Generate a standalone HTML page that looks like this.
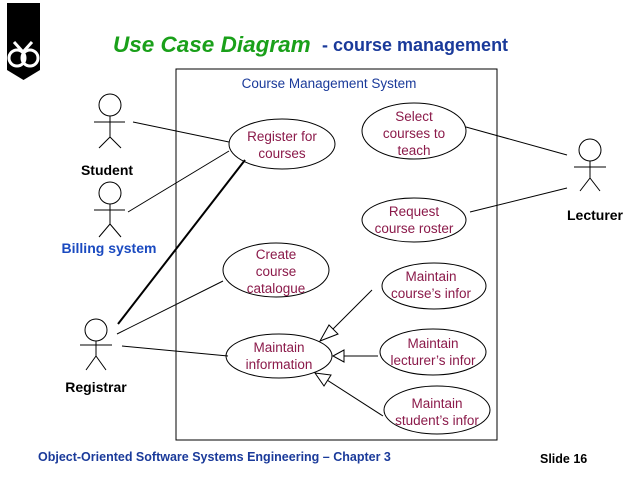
<!DOCTYPE html>
<html><head><style>
body{margin:0;background:#fff;width:638px;height:479px;overflow:hidden;font-family:"Liberation Sans",sans-serif}
</style></head><body>
<svg width="638" height="479" xmlns="http://www.w3.org/2000/svg" font-family="Liberation Sans, sans-serif">
<path d="M7 3 H40 V70 L23.5 80 L7 70 Z" fill="#000"/>
<g fill="none" stroke="#fff" stroke-width="3">
<circle cx="17" cy="58" r="8"/><circle cx="30" cy="58" r="8"/>
<path d="M14 42 L23 52 L32 42"/>
</g>
<text x="113" y="52" font-size="22.5" font-weight="bold" font-style="italic" fill="#1aa01a">Use Case Diagram</text>
<text x="322" y="51" font-size="18" font-weight="bold" fill="#1a3a9a">- course management</text>
<rect x="176" y="69" width="321" height="371" fill="none" stroke="#000" stroke-width="1"/>
<text x="329" y="88" font-size="13.5" fill="#1a3a9a" text-anchor="middle">Course Management System</text>
<g stroke="#000" fill="none" stroke-width="1">
<circle cx="110" cy="105" r="11"/><path d="M110 116V137M94 122H125M110 137L99 148M110 137L121 148"/>
<circle cx="110" cy="193" r="11"/><path d="M110 204V224M94 210H125M110 224L99 237M110 224L121 237"/>
<circle cx="96" cy="330" r="11"/><path d="M96 341V356M80 345H112M96 356L86 370M96 356L106 370"/>
<circle cx="590" cy="150" r="11"/><path d="M590 161V178M574 167H606M590 178L580 191M590 178L600 191"/>
<line x1="133" y1="122" x2="229" y2="142"/>
<line x1="128" y1="212" x2="229" y2="151"/>
<line x1="118" y1="324" x2="245" y2="160" stroke-width="2"/>
<line x1="117" y1="334" x2="223" y2="281"/>
<line x1="122" y1="346" x2="228" y2="356"/>
<line x1="567" y1="155" x2="466" y2="127"/>
<line x1="567" y1="188" x2="470" y2="212"/>
<ellipse cx="282" cy="144" rx="53" ry="25"/>
<ellipse cx="414" cy="131" rx="52" ry="28"/>
<ellipse cx="414" cy="220" rx="52" ry="22"/>
<ellipse cx="276" cy="270" rx="53" ry="27"/>
<ellipse cx="434" cy="286" rx="52" ry="23"/>
<ellipse cx="279" cy="356" rx="53" ry="22"/>
<ellipse cx="433" cy="352" rx="53" ry="23"/>
<ellipse cx="437" cy="410" rx="53" ry="24"/>
<line x1="372" y1="290" x2="332" y2="330"/>
<path d="M320 341 L329 325 L338 334 Z" fill="#fff"/>
<line x1="378" y1="356" x2="344" y2="356"/>
<path d="M333 356 L344 350 L344 362 Z" fill="#fff"/>
<line x1="383" y1="416" x2="327" y2="380"/>
<path d="M315 373 L331 375 L324 386 Z" fill="#fff"/>
</g>
<g font-size="13.5" fill="#8b1a4a" text-anchor="middle">
<text x="282" y="141">Register for</text><text x="282" y="158">courses</text>
<text x="414" y="121">Select</text><text x="414" y="138">courses to</text><text x="414" y="155">teach</text>
<text x="414" y="216">Request</text><text x="414" y="233">course roster</text>
<text x="276" y="259">Create</text><text x="276" y="276">course</text><text x="276" y="293">catalogue</text>
<text x="431" y="281">Maintain</text><text x="431" y="298">course’s infor</text>
<text x="279" y="352">Maintain</text><text x="279" y="369">information</text>
<text x="433" y="348">Maintain</text><text x="433" y="365">lecturer’s infor</text>
<text x="437" y="408">Maintain</text><text x="437" y="425">student’s infor</text>
</g>
<g font-size="14" font-weight="bold" text-anchor="middle">
<text x="107" y="175">Student</text>
<text x="109" y="253" fill="#1a4ac0">Billing system</text>
<text x="96" y="392">Registrar</text>
<text x="595" y="220">Lecturer</text>
</g>
<text x="38" y="461" font-size="12.5" font-weight="bold" fill="#1a3a9a">Object-Oriented Software Systems Engineering – Chapter 3</text>
<text x="540" y="463" font-size="12.5" font-weight="bold">Slide 16</text>
</svg>
</body></html>
